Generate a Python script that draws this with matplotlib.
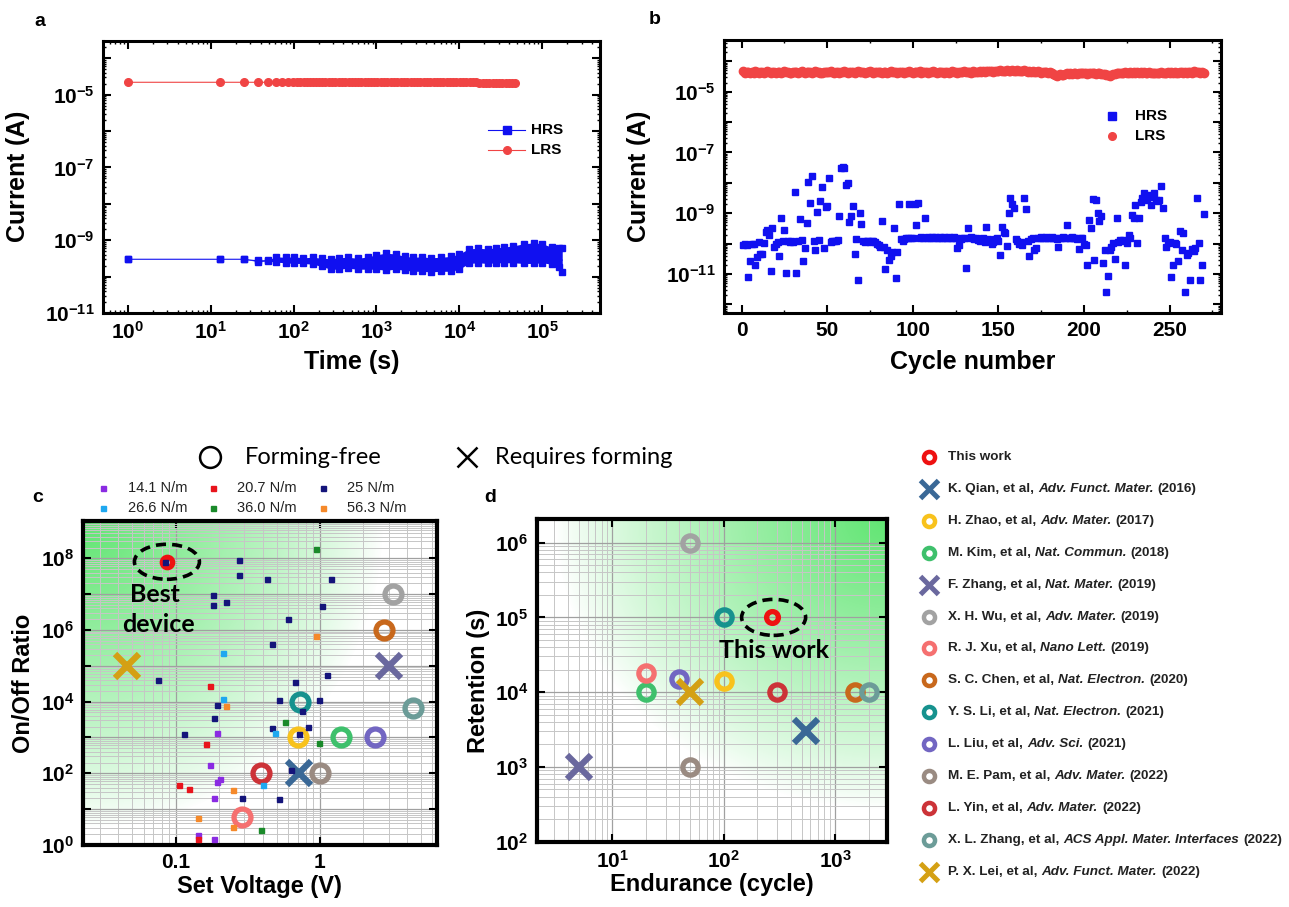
import numpy as np
import matplotlib
matplotlib.use('Agg')
import matplotlib.pyplot as plt
from matplotlib.lines import Line2D
from matplotlib.patches import Ellipse
from matplotlib.ticker import FuncFormatter, LogLocator, MultipleLocator, NullFormatter, FixedLocator

plt.rcParams['font.family'] = ['Liberation Sans', 'DejaVu Sans']
plt.rcParams['font.weight'] = 'bold'
plt.rcParams['axes.labelweight'] = 'bold'
plt.rcParams['mathtext.fontset'] = 'custom'
plt.rcParams['mathtext.rm'] = 'Liberation Sans'
plt.rcParams['mathtext.bf'] = 'Liberation Sans:bold'
plt.rcParams['mathtext.it'] = 'Liberation Sans:italic'

# ---------------- data: panel a (retention) ----------------
lrs_a_time = [1, 13, 25, 37, 49, 61, 73, 85, 97, 109, 121, 133, 145, 157, 170, 185, 200, 220, 240,
              265, 290, 320, 350, 385, 420, 460, 500, 550, 600, 660, 720, 790, 860, 940, 1030,
              1130, 1240, 1360, 1490, 1630, 1790, 1960, 2150, 2360, 2580, 2830, 3100, 3400,
              3720, 4080, 4460, 4890, 5350, 5860, 6420, 7030, 7700, 8440, 9240, 10100, 11100,
              12200, 13300, 14600, 16000, 17500, 19200, 21000, 23000, 25200, 27600, 30200,
              33100, 36300, 39700, 43500, 47600]
lrs_a_current = [2.2e-5] * 0 + [
    2.2e-5, 2.2e-5, 2.2e-5, 2.2e-5, 2.2e-5, 2.2e-5, 2.2e-5, 2.2e-5, 2.2e-5, 2.2e-5,
    2.2e-5, 2.2e-5, 2.2e-5, 2.2e-5, 2.2e-5, 2.2e-5, 2.2e-5, 2.2e-5, 2.2e-5, 2.2e-5,
    2.2e-5, 2.2e-5, 2.2e-5, 2.2e-5, 2.2e-5, 2.2e-5, 2.2e-5, 2.2e-5, 2.2e-5, 2.2e-5,
    2.2e-5, 2.2e-5, 2.2e-5, 2.2e-5, 2.2e-5, 2.2e-5, 2.2e-5, 2.2e-5, 2.2e-5, 2.2e-5,
    2.2e-5, 2.2e-5, 2.2e-5, 2.2e-5, 2.2e-5, 2.2e-5, 2.2e-5, 2.2e-5, 2.2e-5, 2.2e-5,
    2.2e-5, 2.2e-5, 2.2e-5, 2.2e-5, 2.2e-5, 2.2e-5, 2.2e-5, 2.2e-5, 2.2e-5, 2.2e-5,
    2.2e-5, 2.2e-5, 2.2e-5, 2.2e-5, 2.2e-5, 2.15e-5, 2.15e-5, 2.15e-5, 2.15e-5, 2.15e-5,
    2.15e-5, 2.15e-5, 2.15e-5, 2.15e-5, 2.15e-5, 2.15e-5, 2.15e-5]
hrs_a_time = [1, 13, 25, 37, 49, 61, 80, 100, 130, 170, 220, 280, 350, 450, 600, 800, 1000, 1300,
              1700, 2200, 2800, 3500, 4500, 6000, 8000, 10000, 13000, 17000, 22000, 28000, 35000,
              45000, 60000, 80000, 100000, 130000, 160000, 175000]
hrs_a_upper = [3.0e-10, 3.0e-10, 3.0e-10, 2.8e-10, 2.8e-10, 3.5e-10, 3.4e-10, 3.5e-10, 3.3e-10,
               3.4e-10, 3.2e-10, 3.1e-10, 3.3e-10, 3.4e-10, 3.2e-10, 3.5e-10, 4.0e-10, 4.4e-10,
               4.2e-10, 3.6e-10, 3.4e-10, 3.5e-10, 3.3e-10, 3.4e-10, 3.6e-10, 4.2e-10, 5.8e-10,
               6.0e-10, 5.8e-10, 6.2e-10, 6.5e-10, 7.0e-10, 8.0e-10, 8.5e-10, 8.0e-10, 6.5e-10,
               6.3e-10, 6.0e-10]
hrs_a_lower = [3.0e-10, 3.0e-10, 3.0e-10, 2.6e-10, 2.7e-10, 2.5e-10, 2.4e-10, 2.3e-10, 2.3e-10,
               2.2e-10, 1.9e-10, 1.6e-10, 1.6e-10, 1.7e-10, 1.6e-10, 1.6e-10, 1.6e-10, 1.5e-10,
               1.6e-10, 1.5e-10, 1.4e-10, 1.4e-10, 1.35e-10, 1.4e-10, 1.4e-10, 1.6e-10, 2.3e-10,
               2.4e-10, 2.3e-10, 2.4e-10, 2.4e-10, 2.4e-10, 2.3e-10, 2.3e-10, 2.4e-10, 2.2e-10,
               1.8e-10, 1.35e-10]

# ---------------- data: panel b (endurance) ----------------
cycle_b = np.arange(1, 271)
hrs_b_log = [
    -10.05, -10.00, -10.05, -11.10, -10.56, -10.00, -10.00, -10.70, -10.45, -9.95,
    -10.35, -10.33, -9.97, -9.60, -9.55, -9.70, -10.90, -9.50, -10.10, -10.00,
    -9.95, -10.40, -9.17, -9.90, -9.55, -10.95, -9.90, -9.95, -9.90, -9.95,
    -8.30, -10.95, -9.90, -9.20, -9.87, -10.56, -10.15, -9.33, -7.96, -8.67,
    -7.78, -9.90, -10.20, -8.95, -9.87, -8.58, -8.15, -10.15, -8.80, -8.75,
    -7.85, -9.95, -9.90, -9.90, -9.90, -9.88, -9.10, -7.52, -7.49, -7.50,
    -8.07, -8.00, -9.30, -9.10, -8.75, -10.33, -9.85, -11.20, -8.98, -9.35,
    -9.90, -9.95, -9.90, -9.92, -9.95, -9.90, -9.92, -9.95, -10.00, -10.05,
    -10.10, -9.24, -10.10, -10.84, -10.20, -10.53, -10.42, -10.26, -9.50, -11.13,
    -10.26, -8.70, -9.85, -9.90, -9.85, -9.82, -9.80, -8.70, -9.80, -9.80,
    -8.70, -9.38, -8.67, -9.80, -9.78, -9.80, -9.16, -9.82, -9.78, -9.80,
    -9.79, -9.81, -9.78, -9.80, -9.82, -9.79, -9.80, -9.78, -9.81, -9.80,
    -9.79, -9.82, -9.80, -9.78, -9.81, -10.15, -10.05, -9.85, -9.80, -9.82,
    -10.80, -9.50, -9.80, -9.78, -9.82, -9.85, -9.80, -9.88, -9.92, -9.85,
    -9.80, -9.95, -9.46, -9.85, -9.90, -10.00, -9.95, -9.85, -9.80, -9.90,
    -10.37, -9.44, -9.60, -9.66, -10.07, -9.00, -8.50, -8.70, -8.84, -9.85,
    -9.90, -10.00, -9.95, -10.05, -8.50, -8.87, -9.90, -10.42, -9.85, -9.80,
    -10.20, -10.15, -9.82, -9.80, -9.78, -9.81, -9.80, -9.79, -9.82, -9.80,
    -9.78, -9.81, -9.80, -9.85, -10.10, -9.82, -9.80, -9.78, -9.81, -9.40,
    -9.80, -9.82, -9.79, -9.81, -9.80, -9.85, -10.18, -9.82, -9.80, -10.00,
    -10.04, -10.70, -9.22, -9.50, -8.54, -10.53, -8.56, -9.00, -9.27, -9.09,
    -10.64, -10.20, -11.60, -11.05, -10.20, -10.10, -9.98, -10.50, -9.16, -9.95,
    -9.87, -9.90, -9.87, -10.70, -9.98, -9.71, -9.80, -9.05, -9.16, -8.73,
    -9.98, -9.16, -8.62, -8.50, -8.32, -8.56, -8.50, -8.40, -8.73, -8.46,
    -8.34, -8.56, -8.60, -8.56, -8.10, -8.84, -9.82, -10.10, -9.98, -9.95,
    -11.10, -10.70, -9.98, -10.00, -10.58, -9.58, -10.20, -9.66, -11.60, -10.37,
    -10.30, -11.18, -10.18, -10.25, -10.15, -8.49, -9.98, -11.18, -10.70, -9.02,
]
lrs_b_log = [
    -4.33, -4.40, -4.36, -4.34, -4.38, -4.35, -4.37, -4.33, -4.36, -4.38,
    -4.35, -4.34, -4.37, -4.36, -4.33, -4.35, -4.38, -4.36, -4.34, -4.37,
    -4.35, -4.36, -4.38, -4.34, -4.33, -4.36, -4.35, -4.37, -4.39, -4.36,
    -4.34, -4.36, -4.37, -4.35, -4.33, -4.36, -4.38, -4.35, -4.34, -4.36,
    -4.37, -4.35, -4.33, -4.36, -4.34, -4.37, -4.38, -4.35, -4.34, -4.36,
    -4.35, -4.33, -4.36, -4.38, -4.35, -4.34, -4.37, -4.36, -4.35, -4.33,
    -4.36, -4.38, -4.35, -4.34, -4.36, -4.37, -4.35, -4.33, -4.36, -4.35,
    -4.34, -4.37, -4.36, -4.35, -4.33, -4.36, -4.38, -4.35, -4.34, -4.36,
    -4.35, -4.37, -4.34, -4.36, -4.38, -4.35, -4.33, -4.36, -4.35, -4.34,
    -4.37, -4.35, -4.36, -4.34, -4.38, -4.35, -4.36, -4.33, -4.35, -4.37,
    -4.34, -4.36, -4.35, -4.33, -4.37, -4.36, -4.34, -4.35, -4.38, -4.36,
    -4.35, -4.33, -4.36, -4.37, -4.34, -4.36, -4.35, -4.38, -4.34, -4.36,
    -4.37, -4.35, -4.33, -4.36, -4.35, -4.37, -4.34, -4.36, -4.35, -4.33,
    -4.36, -4.34, -4.35, -4.37, -4.33, -4.35, -4.36, -4.34, -4.33, -4.35,
    -4.32, -4.34, -4.33, -4.31, -4.33, -4.32, -4.34, -4.31, -4.33, -4.32,
    -4.30, -4.32, -4.31, -4.33, -4.30, -4.32, -4.31, -4.29, -4.32, -4.31,
    -4.30, -4.33, -4.31, -4.32, -4.30, -4.33, -4.34, -4.32, -4.35, -4.33,
    -4.34, -4.36, -4.33, -4.35, -4.37, -4.34, -4.36, -4.35, -4.38, -4.36,
    -4.39, -4.42, -4.44, -4.47, -4.45, -4.43, -4.46, -4.44, -4.42, -4.40,
    -4.41, -4.39, -4.42, -4.40, -4.38, -4.41, -4.39, -4.37, -4.40, -4.38,
    -4.39, -4.41, -4.38, -4.40, -4.37, -4.39, -4.41, -4.38, -4.40, -4.42,
    -4.43, -4.41, -4.44, -4.46, -4.48, -4.45, -4.43, -4.41, -4.39, -4.40,
    -4.38, -4.37, -4.39, -4.36, -4.38, -4.37, -4.35, -4.37, -4.36, -4.38,
    -4.36, -4.37, -4.35, -4.38, -4.36, -4.37, -4.39, -4.36, -4.38, -4.37,
    -4.38, -4.40, -4.37, -4.39, -4.36, -4.38, -4.40, -4.37, -4.35, -4.38,
    -4.36, -4.38, -4.35, -4.37, -4.39, -4.36, -4.34, -4.37, -4.35, -4.38,
    -4.36, -4.34, -4.37, -4.33, -4.35, -4.34, -4.36, -4.38, -4.35, -4.37,
]

# ---------------- data: panel c squares (surface tension groups) ----------------
sq_labels = ['14.1 N/m', '20.7 N/m', '25 N/m', '26.6 N/m', '36.0 N/m', '56.3 N/m']
sq_colors = ['#8a2be2', '#e8141c', '#14147a', '#1ea8f0', '#1a8a2a', '#f5892a']
sq_voltage = [
    [0.192, 0.173, 0.204, 0.192, 0.183, 0.144, 0.183],
    [0.173, 0.162, 0.105, 0.124, 0.144],
    [0.085, 0.274, 0.274, 0.43, 1.2, 0.181, 0.181, 0.222, 1.04, 0.597, 0.462, 1.11, 0.075,
     0.668, 0.52, 0.98, 0.192, 0.755, 0.185, 0.465, 0.82, 0.114, 0.72, 0.63, 0.29, 0.52],
    [0.213, 0.213, 0.485, 0.405],
    [0.933, 0.57, 0.98, 0.393],
    [0.933, 0.222, 0.251, 0.144, 0.251],
]
sq_ratio = [
    [1.35e3, 1.7e2, 71, 57, 21, 1.9, 1.5],
    [2.8e4, 6.6e2, 47, 36, 1.45],
    [8e7, 9e7, 3.5e7, 2.6e7, 2.7e7, 9.3e6, 4.9e6, 6.2e6, 4.6e6, 2.0e6, 4.0e5, 5.4e4, 4.0e4,
     3.5e4, 1.1e4, 1.1e4, 8.1e3, 5.5e3, 3.6e3, 1.9e3, 2.0e3, 1.25e3, 1.25e3, 1.2e2, 21, 19],
    [2.3e5, 1.15e4, 1.35e3, 46],
    [1.8e8, 2.7e3, 6.8e2, 2.7],
    [7e5, 7.5e3, 35, 5.8, 3.2],
]

# ---------------- data: literature comparison ----------------
ref_authors = ['This work', 'K. Qian, et al,', 'H. Zhao, et al,', 'M. Kim, et al,', 'F. Zhang, et al,',
               'X. H. Wu, et al,', 'R. J. Xu, et al,', 'S. C. Chen, et al,', 'Y. S. Li, et al,',
               'L. Liu, et al,', 'M. E. Pam, et al,', 'L. Yin, et al,', 'X. L. Zhang, et al,',
               'P. X. Lei, et al,']
ref_journals = ['', 'Adv. Funct. Mater.', 'Adv. Mater.', 'Nat. Commun.', 'Nat. Mater.', 'Adv. Mater.',
                'Nano Lett.', 'Nat. Electron.', 'Nat. Electron.', 'Adv. Sci.', 'Adv. Mater.',
                'Adv. Mater.', 'ACS Appl. Mater. Interfaces', 'Adv. Funct. Mater.']
ref_years = ['', '(2016)', '(2017)', '(2018)', '(2019)', '(2019)', '(2019)', '(2020)', '(2021)',
             '(2021)', '(2022)', '(2022)', '(2022)', '(2022)']
ref_forming = [False, True, False, False, True, False, False, False, False, False, False, False,
               False, True]
ref_colors = ['#ee1111', '#3a6896', '#f8c21c', '#3ec06c', '#6a689e', '#a2a2a2', '#f57070',
              '#c8681c', '#16928e', '#7266c2', '#9a8b82', '#cc3338', '#6c9c98', '#d4a014']
ref_voltage = [0.087, 0.72, 0.70, 1.41, 3.0, 3.2, 0.29, 2.8, 0.73, 2.4, 1.0, 0.39, 4.4, 0.046]
ref_onoff = [8e7, 1e2, 1e3, 1e3, 1e5, 1e7, 6, 1e6, 1e4, 1e3, 1e2, 1e2, 6.5e3, 1e5]
ref_endurance = [270, 550, 100, 20, 5, 50, 20, 1500, 100, 40, 50, 300, 2000, 50]
ref_retention = [1e5, 3e3, 1.4e4, 1e4, 1e3, 1e6, 1.8e4, 1e4, 1e5, 1.5e4, 1e3, 1e4, 1e4, 1e4]

# ---------------- figure ----------------
W, H = 1289, 907
fig = plt.figure(figsize=(W / 100, H / 100), dpi=100)


def fx(px):
    return px / W


def fy(py):
    return 1 - py / H


def box(l, t, r, b):
    return [fx(l), fy(b), (r - l) / W, (b - t) / H]


BLUE = '#1010f0'
RED = '#f04444'


def pow_formatter(show):
    def f(v, pos):
        e = int(round(np.log10(v)))
        if e in show and abs(np.log10(v) - e) < 1e-6:
            return r'$\mathbf{10^{%d}}$' % e
        return ''
    return FuncFormatter(f)


def style_axes(ax, lw=2.2, major=6, minor=3.5, size=15):
    for s in ax.spines.values():
        s.set_linewidth(lw)
    ax.tick_params(which='both', direction='in', top=True, right=True, width=1.5)
    ax.tick_params(which='major', length=major, labelsize=size, pad=6)
    ax.tick_params(which='minor', length=minor, width=1.0)


def green_bg(pos, corner, sx, sy):
    bg = fig.add_axes(pos, zorder=0)
    n = 300
    X, Y = np.meshgrid(np.linspace(0, 1, n), np.linspace(0, 1, n))
    r = np.sqrt(((X - corner[0]) / sx) ** 2 + ((Y - corner[1]) / sy) ** 2)
    a = np.clip(1 - r, 0, 1) ** 0.85
    img = np.zeros((n, n, 4))
    img[..., 0] = 0.38
    img[..., 1] = 0.90
    img[..., 2] = 0.45
    img[..., 3] = a
    bg.imshow(img, extent=[0, 1, 0, 1], origin='lower', aspect='auto', interpolation='bilinear')
    bg.axis('off')
    return bg


# ---------------- panel a ----------------
ax_a = fig.add_axes(box(103, 41, 600, 313))
ax_a.set_xscale('log')
ax_a.set_yscale('log')
ax_a.fill_between(hrs_a_time, hrs_a_lower, hrs_a_upper, color=BLUE, lw=0, zorder=2)
hrs_mid = np.sqrt(np.array(hrs_a_upper) * np.array(hrs_a_lower))
ax_a.plot(hrs_a_time, hrs_mid, '-', color=BLUE, lw=0.8, zorder=2)
ax_a.plot(hrs_a_time, hrs_a_upper, 's', color=BLUE, ms=5, zorder=3)
ax_a.plot(hrs_a_time, hrs_a_lower, 's', color=BLUE, ms=5, zorder=3)
ax_a.plot(lrs_a_time, lrs_a_current, '-o', color=RED, lw=0.8, ms=5.5, zorder=3)
ax_a.set_xlim(0.5, 5e5)
ax_a.set_ylim(1e-11, 3e-4)
ax_a.xaxis.set_major_locator(LogLocator(base=10, numticks=20))
ax_a.xaxis.set_minor_locator(LogLocator(base=10, subs=np.arange(2, 10), numticks=20))
ax_a.xaxis.set_major_formatter(pow_formatter(range(0, 6)))
ax_a.xaxis.set_minor_formatter(NullFormatter())
ax_a.yaxis.set_major_locator(LogLocator(base=10, numticks=20))
ax_a.yaxis.set_minor_locator(LogLocator(base=10, subs=np.arange(2, 10), numticks=20))
ax_a.yaxis.set_major_formatter(pow_formatter([-5, -7, -9, -11]))
ax_a.yaxis.set_minor_formatter(NullFormatter())
style_axes(ax_a)
ax_a.tick_params(which='minor', length=2.5)
ax_a.set_xlabel('Time (s)', fontsize=18)
ax_a.set_ylabel(r'Current $\mathrm{(A)}$', fontsize=18)
ax_a.xaxis.set_label_coords(0.5, -0.135)
ax_a.yaxis.set_label_coords(-0.142, 0.5)

# legend a
for py, col, mk, lab in [(130, BLUE, 's', 'HRS'), (150, RED, 'o', 'LRS')]:
    fig.add_artist(Line2D([fx(488), fx(525)], [fy(py), fy(py)], color=col, lw=0.8,
                          transform=fig.transFigure))
    fig.add_artist(Line2D([fx(506.5)], [fy(py)], marker=mk, color=col, ms=5.5,
                          transform=fig.transFigure))
    fig.text(fx(531), fy(py), lab, fontsize=11, va='center', ha='left')

# ---------------- panel b ----------------
ax_b = fig.add_axes(box(724, 40, 1221, 313))
ax_b.set_yscale('log')
ax_b.plot(cycle_b, 10 ** np.array(lrs_b_log), 'o', color=RED, ms=6, zorder=2)
ax_b.plot(cycle_b, 10 ** np.array(hrs_b_log), 's', color=BLUE, ms=5, zorder=3)
ax_b.set_xlim(-10.3, 280)
ax_b.set_ylim(10 ** -12.28, 10 ** -3.3)
ax_b.xaxis.set_major_locator(MultipleLocator(50))
ax_b.xaxis.set_minor_locator(MultipleLocator(25))
ax_b.yaxis.set_major_locator(LogLocator(base=10, numticks=20))
ax_b.yaxis.set_minor_locator(LogLocator(base=10, subs=np.arange(2, 10), numticks=20))
ax_b.yaxis.set_major_formatter(pow_formatter([-5, -7, -9, -11]))
ax_b.yaxis.set_minor_formatter(NullFormatter())
style_axes(ax_b)
ax_b.tick_params(which='minor', length=2.5)
ax_b.set_xlabel('Cycle number', fontsize=18)
ax_b.set_ylabel(r'Current $\mathrm{(A)}$', fontsize=18)
ax_b.xaxis.set_label_coords(0.5, -0.135)
ax_b.yaxis.set_label_coords(-0.143, 0.5)
for py, col, mk, lab in [(116, BLUE, 's', 'HRS'), (136, RED, 'o', 'LRS')]:
    fig.add_artist(Line2D([fx(1112)], [fy(py)], marker=mk, color=col, ms=5.5,
                          transform=fig.transFigure))
    fig.text(fx(1135), fy(py), lab, fontsize=11, va='center', ha='left')

# ---------------- panel c ----------------
pos_c = box(82.7, 521, 436.7, 845)
green_bg(pos_c, (0.0, 1.0), 0.85, 0.95)
ax_c = fig.add_axes(pos_c, zorder=1)
ax_c.patch.set_alpha(0)
ax_c.set_xscale('log')
ax_c.set_yscale('log')
ax_c.set_xlim(0.0227, 6.44)
ax_c.set_ylim(1, 1.1e9)
ax_c.xaxis.set_major_locator(FixedLocator([0.1, 1]))
ax_c.xaxis.set_minor_locator(LogLocator(base=10, subs=np.arange(2, 10), numticks=20))
ax_c.xaxis.set_major_formatter(FuncFormatter(lambda v, p: '0.1' if abs(v - 0.1) < 1e-9 else '1'))
ax_c.xaxis.set_minor_formatter(NullFormatter())
ax_c.yaxis.set_major_locator(LogLocator(base=10, numticks=20))
ax_c.yaxis.set_minor_locator(LogLocator(base=10, subs=np.arange(2, 10), numticks=20))
ax_c.yaxis.set_major_formatter(pow_formatter([0, 2, 4, 6, 8]))
ax_c.yaxis.set_minor_formatter(NullFormatter())
ax_c.grid(True, which='major', color='#a0a0a0', lw=0.9, zorder=0)
ax_c.grid(True, which='minor', color='#c6c6c6', lw=0.7, zorder=0)
ax_c.set_axisbelow(True)
style_axes(ax_c, lw=3.0, size=15)
ax_c.tick_params(which='minor', length=0)
for i in range(len(ref_authors)):
    if ref_forming[i]:
        ax_c.plot(ref_voltage[i], ref_onoff[i], marker='x', color=ref_colors[i], ms=17, mew=4.5,
                  ls='none', zorder=3)
    else:
        ms = 7.5 if i == 0 else 12.2
        ax_c.plot(ref_voltage[i], ref_onoff[i], marker='o', mfc='none', mec=ref_colors[i], ms=ms,
                  mew=3.8, ls='none', zorder=3)
for v, r, c in zip(sq_voltage, sq_ratio, sq_colors):
    ax_c.plot(v, r, 's', color=c, ms=3.6, ls='none', zorder=4)
ax_c.set_xlabel('Set Voltage (V)', fontsize=17)
ax_c.set_ylabel('On/Off Ratio', fontsize=17)
ax_c.xaxis.set_label_coords(0.5, -0.093)
ax_c.yaxis.set_label_coords(-0.135, 0.5)


def axes_point(ax, x, y):
    return ax.transAxes.inverted().transform(ax.transData.transform((x, y)))


cc = axes_point(ax_c, ref_voltage[0], ref_onoff[0])
ax_c.add_patch(Ellipse(cc, 65 / 354, 35 / 324, transform=ax_c.transAxes, fill=False,
                       ec='black', lw=2.6, ls=(0, (2.8, 1.7)), zorder=5))
fig.text(fx(155), fy(595), 'Best', fontsize=18, family='Lato', weight='bold', ha='center',
         va='center')
fig.text(fx(158), fy(625), 'device', fontsize=18, family='Lato', weight='bold', ha='center',
         va='center')

# panel c legend (squares)
sq_pos = [(103, 128, 488), (213, 237, 488), (323, 347, 488),
          (103, 128, 508), (213, 237, 508), (323, 347, 508)]
for (mx, tx, py), lab, col in zip(sq_pos, sq_labels, sq_colors):
    fig.add_artist(Line2D([fx(mx)], [fy(py)], marker='s', color=col, ms=3.6,
                          transform=fig.transFigure))
    fig.text(fx(tx), fy(py), lab, fontsize=10.5, weight='normal', color='#222222',
             va='center', ha='left')

# ---------------- panel d ----------------
pos_d = box(536.7, 519.3, 886.7, 841.7)
green_bg(pos_d, (1.0, 1.0), 0.95, 0.90)
ax_d = fig.add_axes(pos_d, zorder=1)
ax_d.patch.set_alpha(0)
ax_d.set_xscale('log')
ax_d.set_yscale('log')
ax_d.set_xlim(2.09, 2900)
ax_d.set_ylim(100, 2.05e6)
ax_d.xaxis.set_major_locator(LogLocator(base=10, numticks=20))
ax_d.xaxis.set_minor_locator(LogLocator(base=10, subs=np.arange(2, 10), numticks=20))
ax_d.xaxis.set_major_formatter(pow_formatter([1, 2, 3]))
ax_d.xaxis.set_minor_formatter(NullFormatter())
ax_d.yaxis.set_major_locator(LogLocator(base=10, numticks=20))
ax_d.yaxis.set_minor_locator(LogLocator(base=10, subs=np.arange(2, 10), numticks=20))
ax_d.yaxis.set_major_formatter(pow_formatter([2, 3, 4, 5, 6]))
ax_d.yaxis.set_minor_formatter(NullFormatter())
ax_d.grid(True, which='major', color='#a0a0a0', lw=0.9, zorder=0)
ax_d.grid(True, which='minor', color='#c6c6c6', lw=0.7, zorder=0)
ax_d.set_axisbelow(True)
style_axes(ax_d, lw=3.0, size=15)
ax_d.tick_params(which='minor', length=0)
for i in range(len(ref_authors)):
    if ref_forming[i]:
        ax_d.plot(ref_endurance[i], ref_retention[i], marker='x', color=ref_colors[i], ms=17,
                  mew=4.5, ls='none', zorder=3)
    else:
        ms = 8.5 if i == 0 else 11.0
        ax_d.plot(ref_endurance[i], ref_retention[i], marker='o', mfc='none', mec=ref_colors[i],
                  ms=ms, mew=3.8, ls='none', zorder=3)
ax_d.set_xlabel('Endurance (cycle)', fontsize=17)
ax_d.set_ylabel('Retention (s)', fontsize=17)
ax_d.xaxis.set_label_coords(0.5, -0.097)
ax_d.yaxis.set_label_coords(-0.133, 0.5)
cd = axes_point(ax_d, 280, 1e5)
ax_d.add_patch(Ellipse(cd, 64 / 350, 36 / 322.4, transform=ax_d.transAxes, fill=False,
                       ec='black', lw=2.6, ls=(0, (2.8, 1.7)), zorder=5))
fig.text(fx(774), fy(650), 'This work', fontsize=18, family='Lato', weight='bold',
         ha='center', va='center')

# ---------------- headers ----------------
fig.add_artist(Line2D([fx(210)], [fy(457)], marker='o', mfc='none', mec='black', ms=15, mew=1.8,
                      transform=fig.transFigure))
fig.text(fx(245), fy(457), 'Forming-free', fontsize=17, family='Lato', weight='normal',
         va='center', ha='left')
fig.add_artist(Line2D([fx(467)], [fy(457)], marker='x', color='black', ms=14, mew=1.8,
                      transform=fig.transFigure))
fig.text(fx(495), fy(457), 'Requires forming', fontsize=17, family='Lato', weight='normal',
         va='center', ha='left')

# ---------------- panel letters ----------------
for lab, px, py in [('a', 40, 22), ('b', 655, 20), ('c', 38, 497), ('d', 490, 497)]:
    fig.text(fx(px), fy(py), lab, fontsize=14, ha='center', va='center')

# ---------------- right legend ----------------
renderer = fig.canvas.get_renderer()
rows = [457, 489, 521, 553, 585, 617, 648, 680, 712, 744, 776, 808, 840, 872]
LFS = 9.7
for i, py in enumerate(rows):
    if ref_forming[i]:
        fig.add_artist(Line2D([fx(929)], [fy(py)], marker='x', color=ref_colors[i], ms=13, mew=3.6,
                              transform=fig.transFigure))
    else:
        fig.add_artist(Line2D([fx(929)], [fy(py)], marker='o', mfc='none', mec=ref_colors[i],
                              ms=8, mew=3.2, transform=fig.transFigure))
    t1 = fig.text(fx(948), fy(py), ref_authors[i], fontsize=LFS, va='center', ha='left',
                  color='#222222')
    x_end = t1.get_window_extent(renderer=renderer).x1
    if ref_journals[i]:
        t2 = fig.text(fx(x_end + 4), fy(py), ref_journals[i], fontsize=LFS, style='italic',
                      va='center', ha='left', color='#222222')
        x_end = t2.get_window_extent(renderer=renderer).x1
        fig.text(fx(x_end + 4), fy(py), ref_years[i], fontsize=LFS, va='center', ha='left',
                 color='#222222')

fig.savefig('out.png', dpi=100)
